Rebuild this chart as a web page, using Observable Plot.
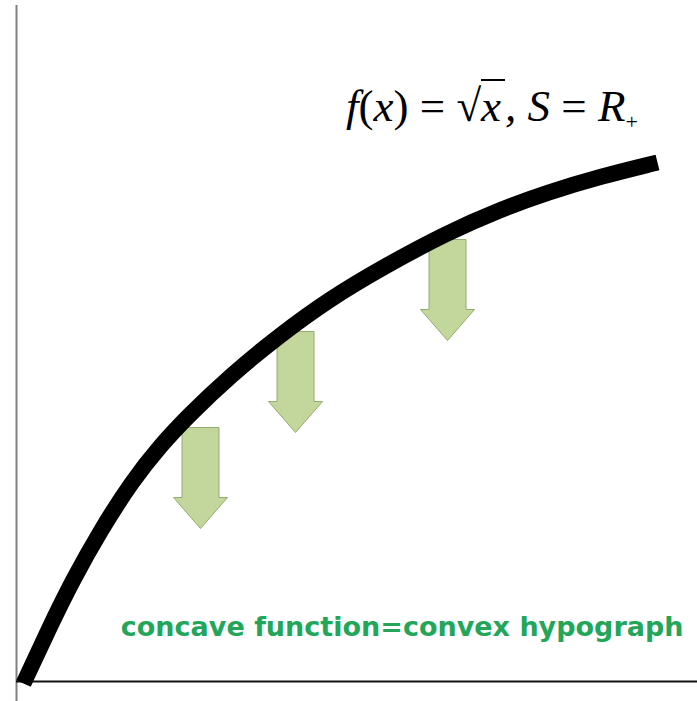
<!DOCTYPE html>
<html><head><meta charset="utf-8">
<script src="https://cdn.jsdelivr.net/npm/d3@7"></script>
<script src="https://cdn.jsdelivr.net/npm/@observablehq/plot@0.6"></script>
<style>
html,body{margin:0;padding:0;background:#fff;}
#wrap{position:relative;width:697px;height:701px;overflow:hidden;}
#formula{position:absolute;left:346px;top:80px;font-family:"Liberation Serif",serif;font-style:italic;font-size:45px;line-height:52px;white-space:nowrap;color:#000;}
#formula .up{font-style:normal;}
#formula .ol{border-top:2px solid #000;padding-right:4px;}
#formula sub{font-size:22px;font-style:normal;vertical-align:-8px;}
</style></head><body>
<div id="wrap"><div id="formula"><span>f</span><span class="up">(</span>x<span class="up">)</span> <span class="up">=</span> <span class="up">√</span><span class="ol">x</span>, S <span class="up">=</span> R<sub>+</sub></div></div>
<script>
// curve of f(x) = sqrt(x) (x right, y up from the axes)
const curveX = [7, 32, 56, 84, 116, 144, 171, 214, 264, 314, 364, 431, 484, 531, 584, 641];
const curveY = [-2, 52, 101, 151, 201, 236, 265, 306, 347, 383, 413, 449, 472, 489, 505, 519];
// down arrows: top-centre of each arrow
const arrowX = [184, 279, 431];
const arrowTop = [254, 350, 442];
const caption = "concave function=convex hypograph";

const curve = curveX.map((x, i) => ({x, y: curveY[i]}));
const arrows = arrowX.map((x, i) => ({x, y: arrowTop[i]}));

// block arrow symbol, drawn downward from its anchor (top-centre)
const blockArrow = {
  draw(ctx) {
    const sw = 18.5, hw = 27, sl = 70, hl = 31;
    ctx.moveTo(-sw, 0);
    ctx.lineTo(sw, 0);
    ctx.lineTo(sw, sl);
    ctx.lineTo(hw, sl);
    ctx.lineTo(0, sl + hl);
    ctx.lineTo(-hw, sl);
    ctx.lineTo(-sw, sl);
    ctx.closePath();
  }
};

const chart = Plot.plot({
  width: 697,
  height: 701,
  marginLeft: 16,
  marginRight: 0,
  marginTop: 0,
  marginBottom: 20,
  x: {domain: [0, 681], axis: null},
  y: {domain: [0, 681], axis: null},
  style: {background: "#fff", overflow: "visible"},
  marks: [
    Plot.ruleX([0], {stroke: "#808080", strokeWidth: 2, insetTop: 5, insetBottom: -25}),
    Plot.ruleY([0], {stroke: "#111", strokeWidth: 2}),
    Plot.dot(arrows, {x: "x", y: "y", symbol: blockArrow, r: 10, fill: "#c3d69b", stroke: "#93ad6e", strokeWidth: 1}),
    Plot.line(curve, {x: "x", y: "y", curve: "basis", stroke: "#000", strokeWidth: 16, strokeLinecap: "butt"}),
    Plot.text([caption], {frameAnchor: "bottom-right", dx: -14, dy: -54, textAnchor: "end", lineAnchor: "middle",
      fill: "#22a659", fontSize: 27, fontWeight: "bold", fontFamily: "DejaVu Sans"})
  ]
});
document.getElementById("wrap").prepend(chart);
</script>
</body></html>
